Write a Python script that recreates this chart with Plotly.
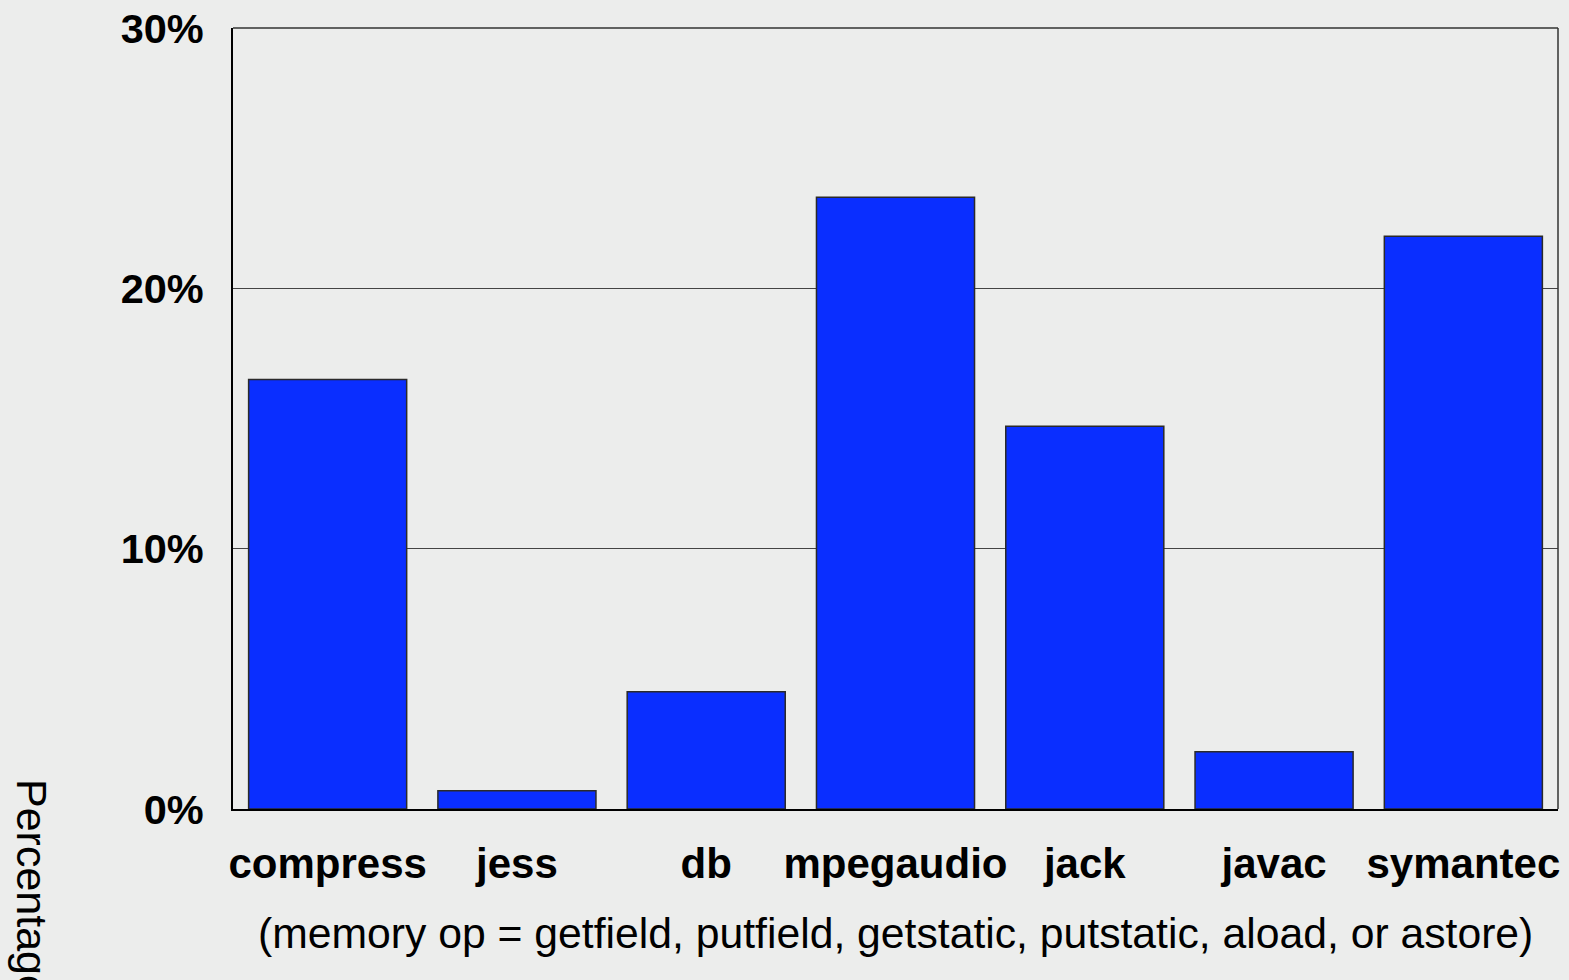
import plotly.graph_objects as go

categories = ["compress", "jess", "db", "mpegaudio", "jack", "javac", "symantec"]
values = [16.5, 0.7, 4.5, 23.5, 14.7, 2.2, 22.0]
y_ticks = [0, 10, 20, 30]
y_ticklabels = ["0%", "10%", "20%", "30%"]

FONT = "Liberation Sans, Arial, sans-serif"
BG = "#ECEDEC"

fig = go.Figure()
fig.add_trace(go.Bar(
    x=categories, y=values,
    marker=dict(color="#0A2EFF", line=dict(color="#2a2a2a", width=1.5)),
    width=0.835,
))

fig.update_layout(
    width=1569, height=980,
    margin=dict(l=233, r=11, t=28, b=171, autoexpand=False),
    paper_bgcolor=BG, plot_bgcolor=BG,
    showlegend=False,
    font=dict(family=FONT, color="black"),
    bargap=0.165,
)
fig.update_xaxes(
    showline=True, linecolor="black", linewidth=2,
    ticks="outside", ticklen=17, tickcolor="rgba(0,0,0,0)",
    tickfont=dict(size=42, family=FONT, weight="bold"),
    showgrid=False, automargin=False,
)
fig.update_yaxes(
    range=[0, 30], tickvals=y_ticks, ticktext=y_ticklabels,
    showline=True, linecolor="black", linewidth=2,
    ticks="outside", ticklen=19, tickcolor="rgba(0,0,0,0)",
    tickfont=dict(size=41.5, family=FONT, weight="bold"),
    showgrid=True, gridcolor="#444444", gridwidth=1,
    zeroline=False, automargin=False,
)
# top and right frame lines
fig.add_shape(type="line", xref="paper", yref="paper", x0=0, x1=1, y0=1, y1=1,
              line=dict(color="#333333", width=1.5))
fig.add_shape(type="line", xref="paper", yref="paper", x0=1, x1=1, y0=0, y1=1,
              line=dict(color="#333333", width=1.5))

fig.add_annotation(
    text="(memory op = getfield, putfield, getstatic, putstatic, aload, or astore)",
    xref="paper", yref="paper", x=0.5, y=0, yshift=-98, xanchor="center", yanchor="top",
    showarrow=False, font=dict(size=42.7, family=FONT),
)
fig.add_annotation(
    text="Percentage of memory ops",
    xref="paper", yref="paper", x=0, y=0, xshift=-201, yshift=32,
    xanchor="center", yanchor="top", textangle=90,
    showarrow=False, font=dict(size=43, family=FONT),
)

fig.write_html("out.html")
